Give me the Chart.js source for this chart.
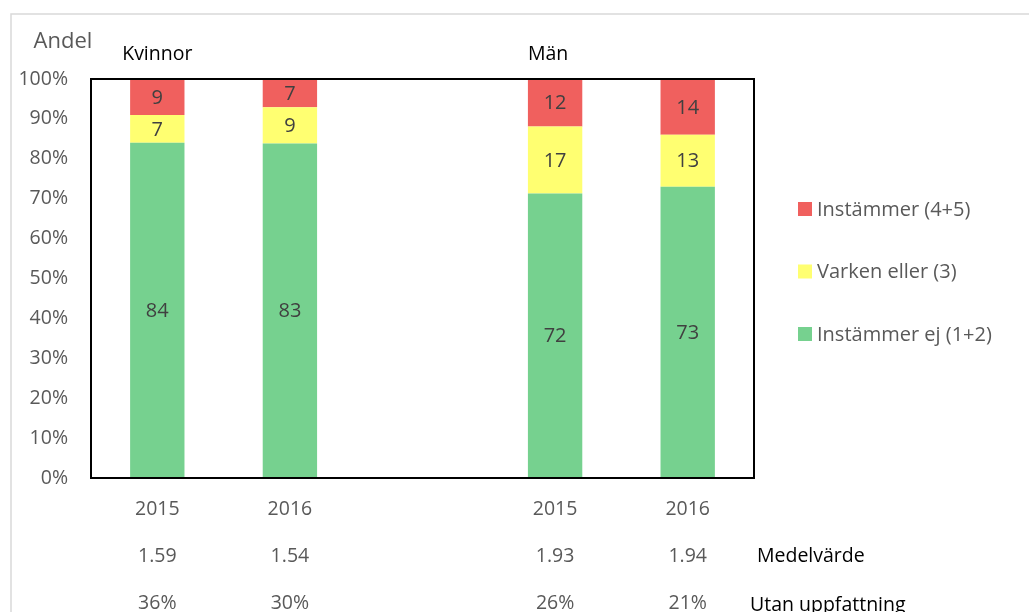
<!DOCTYPE html>
<html>
<head>
<meta charset="utf-8">
<script src="https://cdn.jsdelivr.net/npm/chart.js@4.4.1/dist/chart.umd.min.js"></script>
<style>
  html, body { margin:0; padding:0; background:#fff; }
  #wrap { width:1029px; height:612px; position:relative; }
</style>
</head>
<body>
<div id="wrap"><canvas id="c"></canvas></div>
<script>
(function(){
  'use strict';

  // categories (empty slot separates the two groups)
  const years = ['2015', '2016', '', '2015', '2016'];
  const groups = [{ label:'Kvinnor', at:0 }, { label:'Män', at:3 }];

  // answer shares per bar, in percent (as printed on the bars)
  const disagree = [84, 83, null, 72, 73];   // Instämmer ej (1+2)
  const neutral  = [7, 9, null, 17, 13];     // Varken eller (3)
  const agree    = [9, 7, null, 12, 14];     // Instämmer (4+5)

  // rows under the axis
  const meanValues = [1.59, 1.54, null, 1.93, 1.94];
  const noOpinion  = [36, 30, null, 26, 21];

  const yTicks = [0, 10, 20, 30, 40, 50, 60, 70, 80, 90, 100];

  const FONT = '"Open Sans", sans-serif';
  const GREY = '#595959';

  const series = [
    { label:'Instämmer ej (1+2)', raw:disagree, color:'#76D18F' },
    { label:'Varken eller (3)',   raw:neutral,  color:'#FFFF71' },
    { label:'Instämmer (4+5)',    raw:agree,    color:'#F0605E' }
  ];

  // stack is shown as share of the bar total (100 %)
  const totals = years.map((_, i) => series.reduce((s, d) => s + (d.raw[i] || 0), 0));
  const datasets = series.map(s => ({
    label: s.label,
    raw: s.raw,
    data: s.raw.map((v, i) => v == null ? null : v / totals[i] * 100),
    backgroundColor: s.color,
    borderWidth: 0,
    barPercentage: 0.82,
    categoryPercentage: 0.5
  }));

  function el(id){ return document.getElementById(id); }

  const decorations = {
    id: 'decorations',
    beforeDraw(chart){
      const ctx = chart.ctx;
      ctx.save();
      ctx.fillStyle = '#fff';
      ctx.fillRect(0, 0, chart.width, chart.height);
      ctx.strokeStyle = '#d9d9d9';
      ctx.lineWidth = 1.5;
      ctx.strokeRect(11, 14, chart.width + 20, chart.height + 20);
      ctx.restore();
    },
    afterDatasetsDraw(chart){
      const ctx = chart.ctx;
      const a = chart.chartArea;
      const x = chart.scales.x;
      ctx.save();

      // value labels inside segments
      ctx.font = '20px ' + FONT;
      ctx.fillStyle = '#404040';
      ctx.textAlign = 'center';
      ctx.textBaseline = 'middle';
      chart.data.datasets.forEach((ds, di) => {
        chart.getDatasetMeta(di).data.forEach((bar, i) => {
          if (ds.raw[i] == null) return;
          ctx.fillText(String(ds.raw[i]), bar.x, (bar.y + bar.base) / 2 + 1);
        });
      });

      // plot frame
      ctx.strokeStyle = '#000';
      ctx.lineWidth = 2;
      ctx.strokeRect(a.left, a.top, a.right - a.left, a.bottom - a.top);

      // axis title
      ctx.font = '22px ' + FONT;
      ctx.fillStyle = GREY;
      ctx.fillText('Andel', 63, 42);

      // group titles
      ctx.font = '19.5px ' + FONT;
      ctx.fillStyle = '#000';
      groups.forEach(g => ctx.fillText(g.label, x.getPixelForValue(g.at) - (g.at ? 7 : 0), 54));

      // rows below the years
      ctx.font = '19.5px ' + FONT;
      ctx.fillStyle = GREY;
      meanValues.forEach((v, i) => { if (v != null) ctx.fillText(v.toFixed(2), x.getPixelForValue(i), 556); });
      noOpinion.forEach((v, i) => { if (v != null) ctx.fillText(v + '%', x.getPixelForValue(i), 603); });
      ctx.textAlign = 'left';
      ctx.fillStyle = '#000';
      ctx.fillText('Medelvärde', 757, 556);
      ctx.fillText('Utan uppfattning', 750, 605);

      // legend, top entry is the top segment
      ctx.font = '20px ' + FONT;
      const legendRows = [series[2], series[1], series[0]];
      legendRows.forEach((s, k) => {
        const cy = 209 + k * 62.5;
        ctx.fillStyle = s.color;
        ctx.fillRect(798, cy - 7, 14, 14);
        ctx.fillStyle = GREY;
        ctx.fillText(s.label, 817, cy + 1);
      });

      ctx.restore();
    }
  };

  new Chart(el('c').getContext('2d'), {
    type: 'bar',
    data: { labels: years, datasets },
    options: {
      responsive: true,
      maintainAspectRatio: false,
      animation: false,
      layout: { padding: { left: 0, top: 79, right: 275, bottom: 0 } },
      plugins: { legend: { display: false }, tooltip: { enabled: false } },
      scales: {
        x: {
          stacked: true,
          grid: { display: false, drawTicks: false },
          border: { display: false },
          ticks: { color: GREY, font: { family: FONT, size: 19.5 }, padding: 20 },
          afterFit(scale){ scale.height = 612 - 478; }
        },
        y: {
          stacked: true,
          min: 0, max: 100,
          afterBuildTicks(scale){ scale.ticks = yTicks.map(v => ({ value: v })); },
          grid: { display: false, drawTicks: false },
          border: { display: false },
          ticks: { color: GREY, font: { family: FONT, size: 19.5 }, padding: 23, callback: v => v + '%' },
          afterFit(scale){ scale.width = 91; }
        }
      }
    },
    plugins: [decorations]
  });
})();
</script>
</body>
</html>
